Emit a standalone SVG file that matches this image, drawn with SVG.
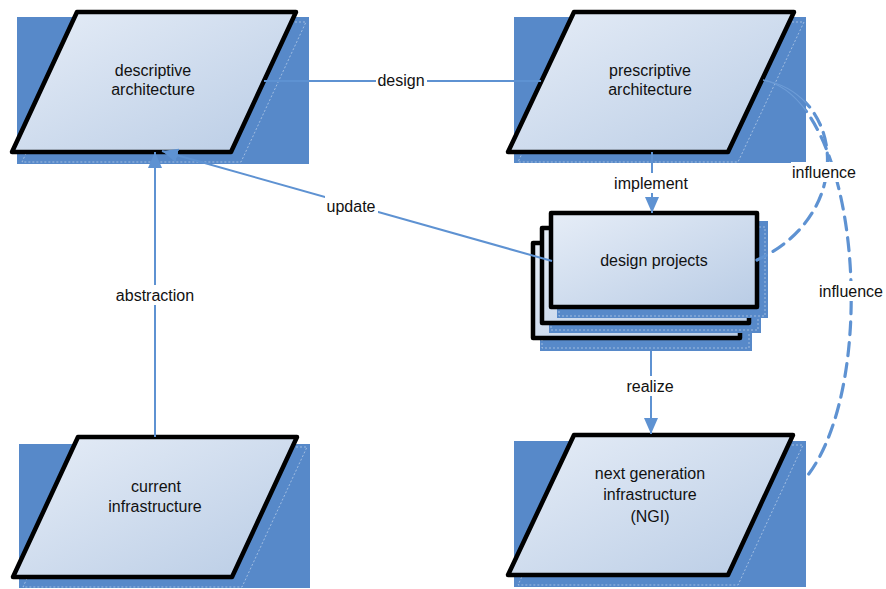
<svg xmlns="http://www.w3.org/2000/svg" width="886" height="589" viewBox="0 0 886 589">
<style>
.shadow{fill:#5789c9}
.ghost{fill:none;stroke:#ffffff;stroke-opacity:0.55;stroke-width:0.8;stroke-dasharray:2 2}
.shape{fill:url(#g);stroke:#000;stroke-width:4.5;stroke-linejoin:round}
.t{font-family:"Liberation Sans",Arial,sans-serif;font-size:16px;fill:#111;text-anchor:middle}
.c{fill:none;stroke:#5e92d2;stroke-width:2}
.d{fill:none;stroke:#5e92d2;stroke-width:3.2;stroke-dasharray:13 8;stroke-linecap:round}
.f{fill:none;stroke:#6d9cd6;stroke-width:1.2}
.lb{fill:#fff}
</style>
<defs>
<linearGradient id="g" x1="0" y1="0" x2="1" y2="1">
<stop offset="0" stop-color="#e6edf7"/>
<stop offset="1" stop-color="#b9cce5"/>
</linearGradient>
<marker id="ah" viewBox="0 0 16 14" refX="16" refY="7" markerWidth="16" markerHeight="14" markerUnits="userSpaceOnUse" orient="auto">
<path d="M0,0 L16,7 L0,14 Z" fill="#5e92d2"/>
</marker>
<mask id="outside" maskUnits="userSpaceOnUse" x="0" y="0" width="886" height="589">
<rect x="0" y="0" width="886" height="589" fill="#fff"/>
<rect x="514" y="17" width="292" height="146" fill="#000"/>
</mask>
<clipPath id="inside">
<rect x="514" y="17" width="292" height="146"/>
</clipPath>
</defs>

<g id="descriptive">
<rect class="shadow" x="17" y="17" width="292" height="147"/>
<polygon class="ghost" points="87,22 306,22 241,162 22,162"/>
<polygon class="shape" points="77,12 296,12 231,152 12,152"/>
<text class="t" x="153" y="76">descriptive</text>
<text class="t" x="153" y="95">architecture</text>
</g>

<g id="prescriptive">
<rect class="shadow" x="514" y="17" width="292" height="146"/>
<polygon class="ghost" points="584,22 804,22 738,162 518,162"/>
<polygon class="shape" points="574,12 794,12 728,152 508,152"/>
<text class="t" x="650" y="76">prescriptive</text>
<text class="t" x="650" y="95">architecture</text>
</g>

<g id="current">
<rect class="shadow" x="19" y="444" width="291" height="144"/>
<polygon class="ghost" points="88,447 307,447 242,587 23,587"/>
<polygon class="shape" points="78,437 297,437 232,577 13,577"/>
<text class="t" x="156" y="492">current</text>
<text class="t" x="155" y="512">infrastructure</text>
</g>

<g id="ngi">
<rect class="shadow" x="514" y="441" width="292" height="146"/>
<polygon class="ghost" points="584,445 803,445 738,585 518,585"/>
<polygon class="shape" points="574,435 793,435 728,575 508,575"/>
<text class="t" x="650" y="479">next generation</text>
<text class="t" x="650" y="500">infrastructure</text>
<text class="t" x="650" y="522">(NGI)</text>
</g>

<g id="design-projects">
<rect class="shadow" x="540" y="251" width="212" height="100"/>
<rect x="542" y="257" width="207" height="91" class="ghost"/>
<rect class="shape" x="533" y="243" width="207" height="95"/>
<rect class="shadow" x="549" y="236" width="212" height="97"/>
<rect x="551" y="242" width="207" height="88" class="ghost"/>
<rect class="shape" x="542" y="228" width="207" height="95"/>
<rect class="shadow" x="557" y="221" width="211" height="97"/>
<rect x="559" y="227" width="206" height="89" class="ghost"/>
<rect class="shape" x="551" y="213" width="206" height="94"/>
<text class="t" x="654" y="266">design projects</text>
</g>

<g id="connectors">
<g clip-path="url(#inside)">
<path class="f" d="M763,80 C845,95 855,215 757,260"/>
<path class="f" d="M763,80 C860,100 880,380 808,475"/>
</g>
<g mask="url(#outside)">
<path class="d" d="M763,80 C845,95 855,215 757,260"/>
<path class="d" d="M763,80 C860,100 880,380 808,475"/>
</g>
<path class="c" d="M552,261 L162,151" marker-end="url(#ah)"/>
<path class="c" d="M264,81 L541,81"/>
<path class="c" d="M652,152 L652,213" marker-end="url(#ah)"/>
<path class="c" d="M651,351 L651,434" marker-end="url(#ah)"/>
<path class="c" d="M155,437 L155,152" marker-end="url(#ah)"/>
<rect class="lb" x="376" y="71" width="51" height="20"/>
<text class="t" x="401" y="86">design</text>
<rect class="lb" x="612" y="173" width="78" height="20"/>
<text class="t" x="651" y="189">implement</text>
<rect class="lb" x="325" y="196" width="53" height="20"/>
<text class="t" x="351" y="212">update</text>
<rect class="lb" x="112" y="285" width="84" height="20"/>
<text class="t" x="155" y="301">abstraction</text>
<rect class="lb" x="624" y="376" width="52" height="20"/>
<text class="t" x="650" y="392">realize</text>
<rect class="lb" x="791" y="162" width="66" height="20"/>
<text class="t" x="824" y="178">influence</text>
<rect class="lb" x="818" y="281" width="67" height="20"/>
<text class="t" x="851" y="297">influence</text>
</g>
</svg>
